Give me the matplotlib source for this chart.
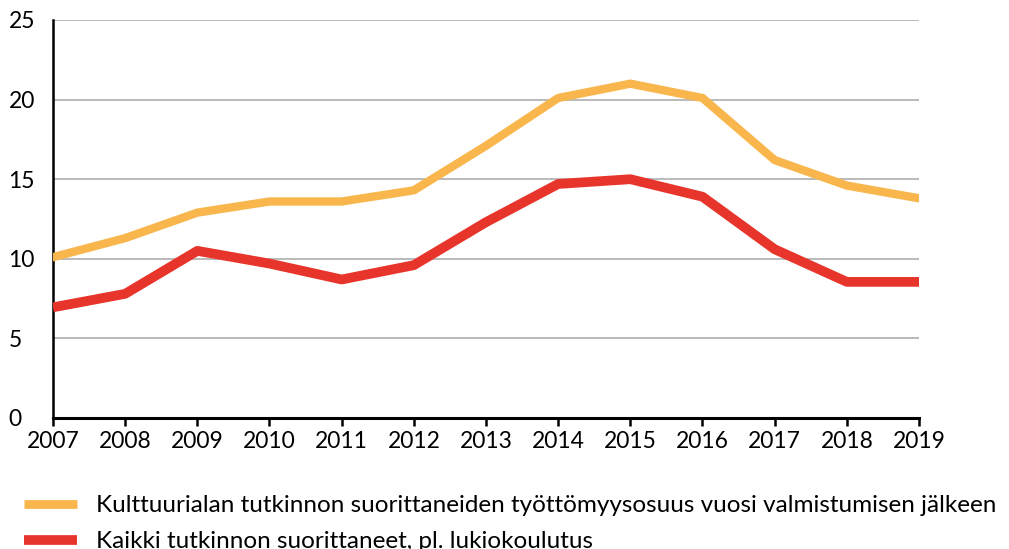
import matplotlib
matplotlib.use("Agg")
import matplotlib.pyplot as plt
from matplotlib.lines import Line2D

# Data (%)
years = list(range(2007, 2020))
kulttuuriala = [10.1, 11.3, 12.9, 13.6, 13.6, 14.3, 17.1, 20.1, 21.0, 20.1, 16.2, 14.6, 13.8]
kaikki = [6.95, 7.8, 10.5, 9.7, 8.7, 9.6, 12.3, 14.7, 15.0, 13.9, 10.6, 8.55, 8.55]
labels = [
    "Kulttuurialan tutkinnon suorittaneiden työttömyysosuus vuosi valmistumisen jälkeen",
    "Kaikki tutkinnon suorittaneet, pl. lukiokoulutus",
]
y_ticks = [0, 5, 10, 15, 20, 25]

orange = "#F9B64C"
red = "#E8352B"

plt.rcParams["font.family"] = ["Lato", "DejaVu Sans"]

fig = plt.figure(figsize=(10.09, 5.49), dpi=100)
ax = fig.add_axes([53 / 1009, (549 - 418) / 549, (919 - 53) / 1009, (418 - 20) / 549])

ax.plot(years, kulttuuriala, color=orange, linewidth=6, solid_capstyle="round",
        solid_joinstyle="round", zorder=3)
ax.plot(years, kaikki, color=red, linewidth=7, solid_capstyle="butt",
        solid_joinstyle="round", zorder=3)

ax.set_xlim(2007, 2019)
ax.set_ylim(0, 25)
ax.set_xticks(years)
ax.set_yticks(y_ticks)

# Gridlines
for v in y_ticks[1:]:
    ax.axhline(v, color="#b4b4b4", linewidth=1.3, zorder=1)

for side in ["top", "right"]:
    ax.spines[side].set_visible(False)
ax.spines["left"].set_linewidth(1.8)
ax.spines["bottom"].set_linewidth(2.2)

ax.tick_params(axis="x", length=6, width=1.8, direction="out", labelsize=16.5, pad=3, colors="black")
ax.tick_params(axis="y", length=0, labelsize=16.5, pad=32)
for lbl in ax.get_yticklabels():
    lbl.set_horizontalalignment("left")

handles = [
    Line2D([0], [0], color=orange, linewidth=6.3, solid_capstyle="butt"),
    Line2D([0], [0], color=red, linewidth=7, solid_capstyle="butt"),
]
fig.legend(handles, labels, loc="upper left", bbox_to_anchor=(24 / 1009, 1 - 495 / 549),
           frameon=False, fontsize=17.5, handlelength=2.18, handletextpad=0.78,
           labelspacing=0.62, borderaxespad=0, borderpad=0)

fig.savefig("out.png", dpi=100)
